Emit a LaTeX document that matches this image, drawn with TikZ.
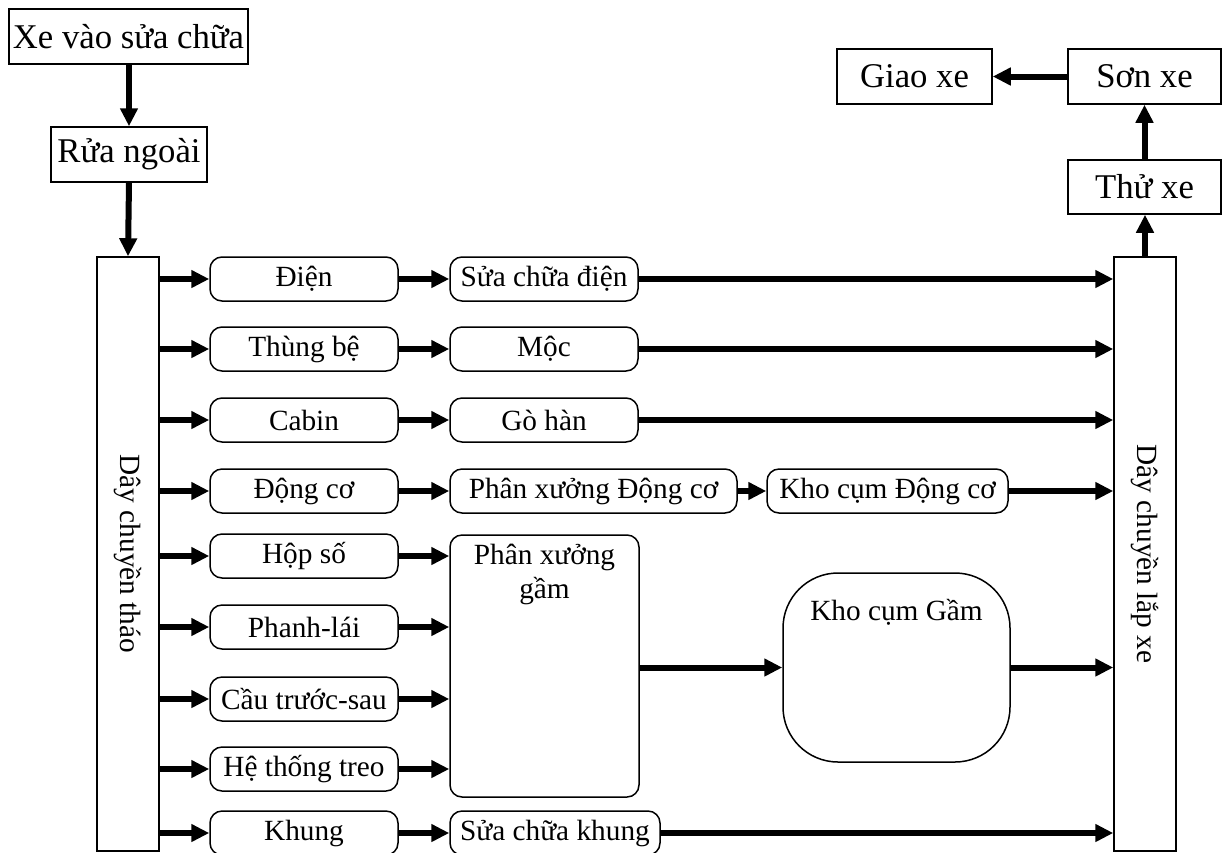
\documentclass[tikz,border=0pt]{standalone}
\usepackage{fontspec}
\setmainfont{Liberation Serif}
\usetikzlibrary{arrows.meta}

\begin{document}
\begin{tikzpicture}[x=1pt,y=-1pt,
    box/.style={draw,line width=1.5pt,inner sep=0pt,minimum height=55pt,font=\fontsize{34.7}{40}\selectfont},
    part/.style={draw,line width=1.5pt,rounded corners=12pt,inner sep=0pt,minimum width=188pt,minimum height=44pt,font=\fontsize{29.3}{34}\selectfont},
    belt/.style={draw,line width=1.5pt,inner sep=0pt,minimum width=594pt,minimum height=62pt,rotate=-90,font=\fontsize{29.3}{34}\selectfont},
    arr/.style={line width=6pt,-{Triangle[length=18pt,width=17pt]}}]
            \useasboundingbox (0,0) rectangle (1222,852);
            % entry and exit
            \node[box,minimum width=239pt] (xe) at (128.5,36.5) {Xe vào sửa chữa}; \node[box,minimum width=156pt] (rua) at (129,154.5) {Rửa ngoài};
            \node[box,minimum width=155pt] (giao) at (914.5,76.5) {Giao xe}; \node[box,minimum width=153pt] (son) at (1144.5,76.5) {Sơn xe}; \node[box,minimum width=153pt,minimum height=54pt] (thu) at (1144.5,187) {Thử xe};
            \node[belt] (thao) at (128,554) {Dây chuyền tháo}; \node[belt] (lap) at (1145,554) {Dây chuyền lắp xe};

            % disassembled parts
            \node[part] (dien) at (304,279) {Điện}; \node[part] (thung) at (304,349) {Thùng bệ}; \node[part] (cabin) at (304,420) {Cabin};
            \node[part] (dongco) at (304,491) {Động cơ}; \node[part] (hopso) at (304,556) {Hộp số}; \node[part] (phanh) at (304,627) {Phanh-lái};
            \node[part] (cau) at (304,699) {Cầu trước-sau}; \node[part] (treo) at (304,769) {Hệ thống treo}; \node[part] (khung) at (304,833) {Khung};

            % workshops
            \node[part] (scdien) at (544,279) {Sửa chữa điện}; \node[part] (moc) at (544,349) {Mộc}; \node[part] (gohan) at (544,420) {Gò hàn};
            \node[part,minimum width=287pt] (pxdc) at (593.5,491) {Phân xưởng Động cơ}; \node[part,minimum width=241pt] (khodc) at (887.5,491) {Kho cụm Động cơ};
            \node[part,minimum width=210pt] (sckhung) at (555,833) {Sửa chữa khung};
            \node[part,minimum width=189pt,minimum height=262pt] (pxg) at (544.5,666) {}; \node[font=\fontsize{29.3}{34}\selectfont,align=center,anchor=north,inner sep=0pt] (pxgt) at ([yshift=-10pt]pxg.north) {Phân xưởng\\gầm};
            \node[part,minimum width=227pt,minimum height=189pt,rounded corners=55pt] (khog) at (896.5,667.5) {}; \node[font=\fontsize{29.3}{34}\selectfont,inner sep=0pt] (khogt) at (896.5,612) {Kho cụm Gầm};

            % flow (belt nodes are turned, so their north is the right side)
            \draw[arr] (xe.south -| rua.north) -- (rua.north); \draw[arr] (rua.south) -- (thao.west);
            \draw[arr] (thao.north |- dien) -- (dien); \draw[arr] (thao.north |- thung) -- (thung); \draw[arr] (thao.north |- cabin) -- (cabin);
            \draw[arr] (thao.north |- dongco) -- (dongco); \draw[arr] (thao.north |- hopso) -- (hopso); \draw[arr] (thao.north |- phanh) -- (phanh);
            \draw[arr] (thao.north |- cau) -- (cau); \draw[arr] (thao.north |- treo) -- (treo); \draw[arr] (thao.north |- khung) -- (khung);
            \draw[arr] (dien) -- (scdien); \draw[arr] (thung) -- (moc); \draw[arr] (cabin) -- (gohan); \draw[arr] (dongco.east) -- (pxdc.west); \draw[arr] (pxdc) -- (khodc); \draw[arr] (khung.east) -- (sckhung.west);
            \draw[arr] (hopso.east) -- (pxg.west |- hopso.east); \draw[arr] (phanh.east) -- (pxg.west |- phanh.east); \draw[arr] (cau.east) -- (pxg.west |- cau.east); \draw[arr] (treo.east) -- (pxg.west |- treo.east);
            \draw[arr] (pxg.east |- khog.west) -- (khog.west);
            \draw[arr] (scdien.east) -- (lap.south |- scdien.east); \draw[arr] (moc.east) -- (lap.south |- moc.east); \draw[arr] (gohan.east) -- (lap.south |- gohan.east);
            \draw[arr] (khodc.east) -- (lap.south |- khodc.east); \draw[arr] (khog.east) -- (lap.south |- khog.east); \draw[arr] (sckhung.east) -- (lap.south |- sckhung.east);
            \draw[arr] (lap.west) -- (lap.west |- thu.south); \draw[arr] (thu.north) -- (son.south); \draw[arr] (son.west) -- (giao.east);
\end{tikzpicture}
\end{document}
